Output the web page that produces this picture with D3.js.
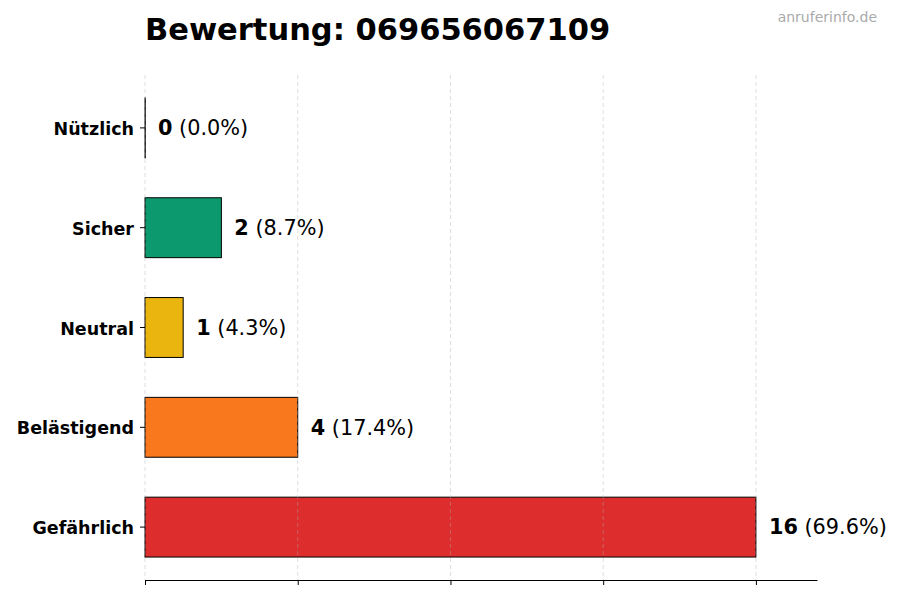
<!DOCTYPE html>
<html>
<head>
<meta charset="utf-8">
<script src="https://cdn.jsdelivr.net/npm/d3@7"></script>
<style>
  body { margin: 0; background: #fff; }
  svg { font-family: "DejaVu Sans", sans-serif; }
</style>
</head>
<body>
<div id="chart"></div>
<script>
const categories = ['Nützlich', 'Sicher', 'Neutral', 'Belästigend', 'Gefährlich'];
const counts = [0, 2, 1, 4, 16];
const percents = ['0.0%', '8.7%', '4.3%', '17.4%', '69.6%'];
const colors = ['#6b7280', '#059669', '#eab308', '#f97316', '#dc2626'];
const xTicks = [0, 4, 8, 12, 16];
const title = 'Bewertung: 069656067109';
const watermark = 'anruferinfo.de';

const W = 900, H = 600;
const margin = { top: 75, right: 83, bottom: 20, left: 145 };
const width = W - margin.left - margin.right;
const height = H - margin.top - margin.bottom;

const svg = d3.select('#chart').append('svg')
  .attr('width', W)
  .attr('height', H);

const g = svg.append('g')
  .attr('transform', `translate(${margin.left},${margin.top})`);

const x = d3.scaleLinear()
  .domain([0, d3.max(counts) * 1.1])
  .range([0, width]);

const y = d3.scaleBand()
  .domain(categories)
  .range([0, height])
  .paddingInner(0.4)
  .paddingOuter(0.23);

// bars (zero-width bars still show their black edge)
g.selectAll('.bar')
  .data(categories)
  .enter()
  .append('rect')
  .attr('class', 'bar')
  .attr('x', x(0))
  .attr('y', d => y(d))
  .attr('width', (d, i) => Math.max(x(counts[i]) - x(0), 0.3))
  .attr('height', y.bandwidth())
  .attr('fill', (d, i) => colors[i])
  .attr('fill-opacity', 0.97)
  .attr('stroke', '#000')
  .attr('stroke-width', 1);

// grid lines (dashed, drawn over bars)
g.append('g')
  .selectAll('line')
  .data(xTicks)
  .enter()
  .append('line')
  .attr('x1', d => x(d))
  .attr('x2', d => x(d))
  .attr('y1', 0)
  .attr('y2', height)
  .attr('stroke', '#b0b0b0')
  .attr('stroke-opacity', 0.5)
  .attr('stroke-dasharray', '4,3')
  .attr('stroke-width', 0.8);

// x axis (no labels)
const xAxis = g.append('g')
  .attr('transform', `translate(0,${height})`)
  .call(d3.axisBottom(x).tickValues(xTicks).tickFormat('').tickSize(5).tickSizeOuter(0));
xAxis.select('.domain').attr('stroke', '#000').attr('stroke-width', 1.1);
xAxis.selectAll('.tick line').attr('stroke', '#000');

// y axis (ticks only, no spine)
const yAxis = g.append('g')
  .call(d3.axisLeft(y).tickSize(5).tickPadding(6));
yAxis.select('.domain').remove();
yAxis.selectAll('.tick line').attr('stroke', '#000');
yAxis.selectAll('text')
  .attr('fill', '#000')
  .attr('dy', '0.4em')
  .style('font-size', '17.5px')
  .style('font-weight', 'bold')
  .style('font-family', '"DejaVu Sans", sans-serif');

// value labels
const labels = g.selectAll('.val')
  .data(categories)
  .enter()
  .append('text')
  .attr('class', 'val')
  .attr('x', (d, i) => x(counts[i]) + 13)
  .attr('y', d => y(d) + y.bandwidth() / 2)
  .attr('dy', '0.35em')
  .style('font-size', '20.8px')
  .attr('fill', '#000');
labels.append('tspan')
  .style('font-weight', 'bold')
  .text((d, i) => counts[i]);
labels.append('tspan')
  .text((d, i) => ` (${percents[i]})`);

// title
svg.append('text')
  .attr('x', margin.left)
  .attr('y', 40)
  .style('font-size', '30.5px')
  .style('font-weight', 'bold')
  .attr('fill', '#000')
  .text(title);

// watermark
svg.append('text')
  .attr('x', 877)
  .attr('y', 22)
  .attr('text-anchor', 'end')
  .style('font-size', '14px')
  .attr('fill', '#aaaaaa')
  .text(watermark);
</script>
</body>
</html>
